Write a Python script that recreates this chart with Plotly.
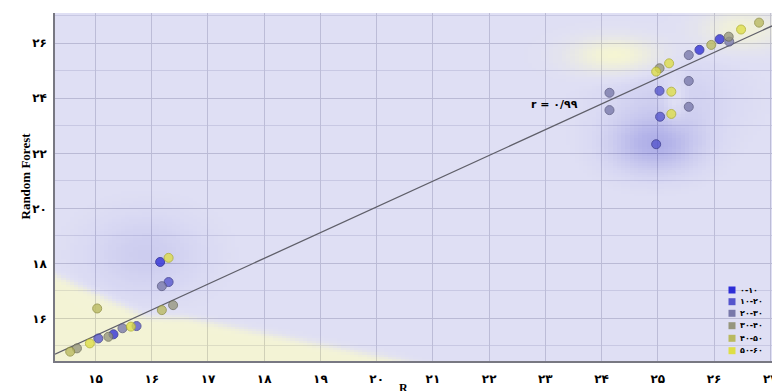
import numpy as np
import plotly.graph_objects as go

# ---------------- data ----------------
cat_labels = ["۰-۱۰", "۱۰-۲۰", "۲۰-۳۰", "۳۰-۴۰", "۴۰-۵۰", "۵۰-۶۰"]
cat_colors = ["rgb(45,45,215)", "rgb(85,85,205)", "rgb(120,120,170)",
              "rgb(150,150,125)", "rgb(185,185,95)", "rgb(222,222,70)"]
cat_edges = ["rgb(30,30,140)", "rgb(55,55,140)", "rgb(85,85,125)",
             "rgb(105,105,85)", "rgb(140,140,60)", "rgb(175,175,40)"]

x_c0 = [16.15, 15.32, 25.74, 26.10]
y_c0 = [18.05, 15.42, 25.76, 26.15]
x_c1 = [16.30, 15.73, 15.05, 25.03, 25.04, 24.97]
y_c1 = [17.32, 15.72, 15.27, 24.27, 23.33, 22.33]
x_c2 = [16.18, 15.48, 24.14, 24.14, 25.55, 25.55, 25.55, 26.27]
y_c2 = [17.17, 15.64, 24.20, 23.57, 24.63, 23.69, 25.57, 26.06]
x_c3 = [16.38, 15.23, 14.67, 25.03, 26.26]
y_c3 = [16.48, 15.33, 14.91, 25.09, 26.24]
x_c4 = [16.18, 15.03, 14.55, 25.95, 26.80]
y_c4 = [16.30, 16.36, 14.79, 25.94, 26.75]
x_c5 = [16.30, 15.63, 14.90, 24.97, 25.20, 25.24, 25.24, 26.48]
y_c5 = [18.20, 15.70, 15.09, 24.97, 25.27, 24.24, 23.43, 26.50]

xs = [x_c0, x_c1, x_c2, x_c3, x_c4, x_c5]
ys = [y_c0, y_c1, y_c2, y_c3, y_c4, y_c5]

# fitted line
fit_x = [14.28, 27.03]
fit_y = [14.70, 26.63]
r_text = "r = ۰/۹۹"
r_pos = (23.16, 23.76)

x_tickvals = [15, 16, 17, 18, 19, 20, 21, 22, 23, 24, 25, 26, 27]
x_ticktext = ["۱۵", "۱۶", "۱۷", "۱۸", "۱۹", "۲۰", "۲۱", "۲۲", "۲۳", "۲۴", "۲۵", "۲۶", "۲۷"]
y_tickvals = [16, 18, 20, 22, 24, 26]
y_ticktext = ["۱۶", "۱۸", "۲۰", "۲۲", "۲۴", "۲۶"]

x_range = [14.28, 27.03]
y_range = [14.45, 27.1]

# background shading (blobs: centre, spread, strength)
blob_x = [24.25, 26.5, 25.3, 24.95, 25.2, 15.9]
blob_y = [25.55, 26.5, 23.9, 22.3, 24.0, 18.3]
blob_sx = [0.55, 0.5, 0.15, 0.55, 0.8, 0.7]
blob_sy = [0.45, 0.5, 0.6, 0.7, 1.0, 1.0]
blob_amp = [0.95, 0.75, 0.35, -0.85, -0.3, -0.35]
wedge_x = [14.28, 15.9, 16.6, 20.4, 27.0]
wedge_y = [17.55, 16.05, 16.0, 14.45, 11.0]
wedge_amp = 0.85

# ---------------- background field ----------------
gx = np.linspace(x_range[0], x_range[1], 170)
gy = np.linspace(y_range[0], y_range[1], 150)
X, Y = np.meshgrid(gx, gy)
Z = np.zeros_like(X)
for bx, by, sx, sy, a in zip(blob_x, blob_y, blob_sx, blob_sy, blob_amp):
    Z += a * np.exp(-(((X - bx) / sx) ** 2 + ((Y - by) / sy) ** 2) / 2)
bound = np.interp(gx, wedge_x, wedge_y)[None, :]
Z += wedge_amp / (1 + np.exp(-(bound - Y) / 0.08))
Z = np.clip(Z, -1, 1)

fig = go.Figure()
fig.add_trace(go.Heatmap(
    x=gx, y=gy, z=Z, zmin=-1, zmax=1, showscale=False, opacity=0.8,
    colorscale=[[0, "rgb(150,150,225)"], [0.5, "rgb(216,216,242)"], [1, "rgb(246,246,196)"]],
    hoverinfo="skip"))

fig.add_trace(go.Scatter(x=fit_x, y=fit_y, mode="lines",
                         line=dict(color="rgb(95,95,105)", width=1.3), showlegend=False))

for lab, col, ec, x, y in zip(cat_labels, cat_colors, cat_edges, xs, ys):
    fig.add_trace(go.Scatter(x=x, y=y, mode="markers", name=lab, showlegend=False,
                             marker=dict(size=9, color=col, opacity=0.78,
                                         line=dict(color=ec, width=1))))

# custom compact legend
plot_top, plot_bot = 13, 361
plot_h = plot_bot - plot_top
leg_py = [290, 301.7, 313.3, 325.7, 338.3, 350.7]
for lab, col, py in zip(cat_labels, cat_colors, leg_py):
    yp = (plot_bot - py) / plot_h
    fig.add_shape(type="rect", xref="paper", yref="paper",
                  xsizemode="pixel", ysizemode="pixel",
                  xanchor=(732 - 55) / 717, yanchor=yp,
                  x0=-3.5, x1=3.5, y0=-3.5, y1=3.5,
                  fillcolor=col, line=dict(width=0), layer="above")
    fig.add_annotation(xref="paper", yref="paper", x=(738 - 55) / 717, y=yp,
                       text=lab, showarrow=False, xanchor="left", yanchor="middle",
                       font=dict(family="DejaVu Sans", size=8, color="black", weight="bold"))

fig.add_annotation(x=r_pos[0], y=r_pos[1], text=r_text, showarrow=False,
                   font=dict(family="DejaVu Sans", size=11, color="black", weight="bold"))

fig.add_annotation(xref="paper", yref="paper", x=(16 - 55) / 717, y=(361 - 176) / 348,
                   text="Random Forest", textangle=-90, showarrow=False,
                   font=dict(family="Liberation Serif", size=13, color="black", weight="bold"))
fig.add_annotation(xref="paper", yref="paper", x=(405 - 55) / 717, y=(361 - 389) / 348,
                   text="R<sub>o</sub>", showarrow=False, yanchor="middle",
                   font=dict(family="Liberation Serif", size=12, color="black", weight="bold"))

fig.update_layout(
    width=772, height=391, margin=dict(l=55, r=0, t=13, b=30, autoexpand=False),
    paper_bgcolor="white", plot_bgcolor="white", showlegend=False,
    xaxis=dict(range=x_range, tickvals=x_tickvals, ticktext=x_ticktext,
               showgrid=True, gridcolor="rgb(80,80,110)", gridwidth=1,
               showline=True, linecolor="rgb(120,120,130)", linewidth=1.5,
               ticks="outside", ticklen=6, tickcolor="rgba(0,0,0,0)",
               zeroline=False, ticklabeloverflow="allow", automargin=False,
               tickfont=dict(family="DejaVu Sans", size=12, color="black", weight="bold")),
    yaxis=dict(range=y_range, tickvals=y_tickvals, ticktext=y_ticktext,
               showgrid=True, gridcolor="rgb(70,70,100)", gridwidth=1,
               minor=dict(dtick=1, tick0=0, showgrid=True, gridcolor="rgb(140,140,170)"),
               showline=True, linecolor="rgb(120,120,130)", linewidth=1.5,
               ticks="outside", ticklen=4, tickcolor="rgba(0,0,0,0)",
               zeroline=False, automargin=False,
               tickfont=dict(family="DejaVu Sans", size=12, color="black", weight="bold")),
)

fig.write_html("out.html")
